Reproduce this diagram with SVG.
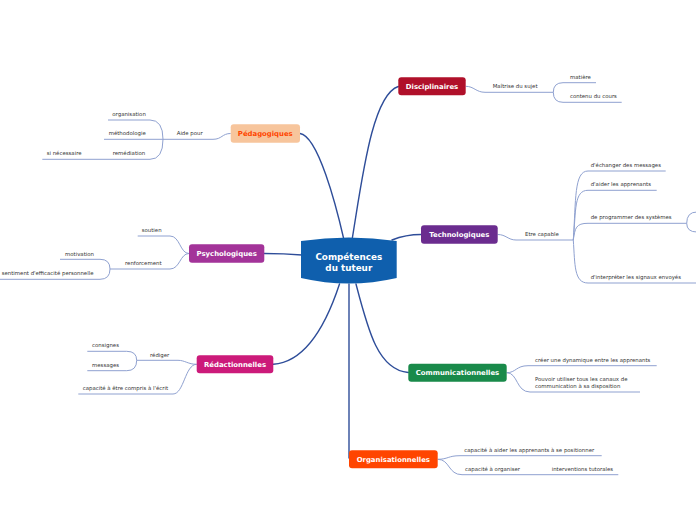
<svg xmlns="http://www.w3.org/2000/svg" width="696" height="520" viewBox="0 0 696 520">
<style>
.main{fill:none;stroke:#2E4D99;stroke-width:1.4;stroke-linecap:round}
.sub{fill:none;stroke:#8FA1D0;stroke-width:1}
.node{stroke:none}
.nt{font-family:"DejaVu Sans",Verdana,sans-serif;font-weight:bold;font-size:6.9px;fill:#fff;text-anchor:middle}
.lb{font-family:"DejaVu Sans",Verdana,sans-serif;font-size:5.4px;fill:#333}
</style>
<rect width="696" height="520" fill="#fff"/>
<g id="connectors">
<path class="main" d="M352,240 C362,180 372,95 398.3,86.5"/>
<path class="main" d="M344,240 C336,205 318,136 300,133.5"/>
<path class="main" d="M392,240 C402,236 410,234.5 421,234.5"/>
<path class="main" d="M302,255 C290,254 280,253.5 264.3,253.5"/>
<path class="main" d="M339.5,284 C326,325 305,362 273.3,364.3"/>
<path class="main" d="M349,284 L349,458"/>
<path class="main" d="M356,284 C368,330 378,370 408.3,372.5"/>
<!-- Pedagogiques -->
<path class="sub" d="M230.7,133.5 C222,133.5 222,139.3 213,139.3 L163,139.3"/>
<path class="sub" d="M163,139.3 Q163,120 150,120 L108,120"/>
<path class="sub" d="M163,139.3 L104,139.3"/>
<path class="sub" d="M163,139.3 Q163,159.3 150,159.3 L42.3,159.3"/>
<!-- Psychologiques -->
<path class="sub" d="M189,253.5 C180,253.5 180,236 170,236 L137.7,236"/>
<path class="sub" d="M189,253.5 C180,253.5 180,269 170,269 L110,269"/>
<path class="sub" d="M110,269 Q110,259.3 100,259.3 L60,259.3"/>
<path class="sub" d="M110,269 Q110,279.3 100,279.3 L0,279.3"/>
<!-- Redactionnelles -->
<path class="sub" d="M196.7,364.3 C188,364.3 185,360.3 178,360.3 L136.7,360.3"/>
<path class="sub" d="M196.7,364.3 C185,364.3 184,394 173,394 L78.3,394"/>
<path class="sub" d="M136.7,360.3 Q136.7,351.3 126.7,351.3 L87.3,351.3"/>
<path class="sub" d="M136.7,360.3 Q136.7,370.7 126.7,370.7 L87.3,370.7"/>
<!-- Disciplinaires -->
<path class="sub" d="M465.7,86.3 C474,86.3 476,92.3 485,92.3 L553.3,92.3"/>
<path class="sub" d="M553.3,92.3 Q553.3,82.7 563,82.7 L596,82.7"/>
<path class="sub" d="M553.3,92.3 Q553.3,102.3 563,102.3 L621.7,102.3"/>
<!-- Technologiques -->
<path class="sub" d="M497.7,234.5 C506,234.5 508,240 516,240 L573.3,240"/>
<path class="sub" d="M573.3,240 C576,200 574,171 588,171 L665.7,171"/>
<path class="sub" d="M573.3,240 C576,210 574,190.3 588,190.3 L656.7,190.3"/>
<path class="sub" d="M573.3,240 C575,228 576,223.3 588,223.3 L686.7,223.3"/>
<path class="sub" d="M573.3,240 C575,265 574,283 588,283 L696,283"/>
<path class="sub" d="M686.7,223.3 Q686.7,212 697,212"/>
<path class="sub" d="M686.7,223.3 Q686.7,232 697,232"/>
<!-- Communicationnelles -->
<path class="sub" d="M506.7,372.7 C516,372.7 516,365.7 528,365.7 L656.7,365.7"/>
<path class="sub" d="M506.7,372.7 C518,372.7 516,392 530,392 L640,392"/>
<!-- Organisationnelles -->
<path class="sub" d="M437.7,459.3 C448,459.3 448,455.7 460,455.7 L601.7,455.7"/>
<path class="sub" d="M437.7,459.3 C450,459.3 448,474.7 462,474.7 L618.3,474.7"/>
</g>
<g id="center">
<path class="node" fill="#0F5FAD" d="M301,241 Q348.8,234 396.7,241 L396.7,278 Q348.8,289 301,278 Z"/>
<text class="nt" x="348.8" y="260" style="font-size:8.8px">Compétences</text>
<text class="nt" x="348.8" y="270.5" style="font-size:8.8px">du tuteur</text>
</g>
<g id="disciplinaires">
<rect class="node" x="398.3" y="77.3" width="67.4" height="18" rx="3" fill="#B0102A"/>
<text class="nt" x="432" y="89">Disciplinaires</text>
<text class="lb" x="492.7" y="88">Maîtrise du sujet</text>
<text class="lb" x="570" y="78.5">matière</text>
<text class="lb" x="570" y="98">contenu du cours</text>
</g>
<g id="pedagogiques">
<rect class="node" x="230.7" y="124.3" width="69.3" height="18.4" rx="3" fill="#F7C59C"/>
<text class="nt" x="265.3" y="136" style="fill:#FF4500">Pédagogiques</text>
<text class="lb" x="176.7" y="135">Aide pour</text>
<text class="lb" x="112.3" y="116">organisation</text>
<text class="lb" x="108.7" y="135">méthodologie</text>
<text class="lb" x="112.7" y="155">remédiation</text>
<text class="lb" x="46.7" y="155">si nécessaire</text>
</g>
<g id="psychologiques">
<rect class="node" x="189" y="244.3" width="75.3" height="18.4" rx="3" fill="#A33399"/>
<text class="nt" x="226.7" y="256">Psychologiques</text>
<text class="lb" x="141.7" y="231.8">soutien</text>
<text class="lb" x="125" y="265">renforcement</text>
<text class="lb" x="65" y="256">motivation</text>
<text class="lb" x="1.7" y="275">sentiment d'efficacité personnelle</text>
</g>
<g id="technologiques">
<rect class="node" x="421" y="225.3" width="76.7" height="18.4" rx="3" fill="#6B2C8F"/>
<text class="nt" x="459.3" y="237">Technologiques</text>
<text class="lb" x="525" y="236">Etre capable</text>
<text class="lb" x="590.7" y="167">d'échanger des messages</text>
<text class="lb" x="590.7" y="186">d'aider les apprenants</text>
<text class="lb" x="590.7" y="219">de programmer des systèmes</text>
<text class="lb" x="590.7" y="279">d'interpréter les signaux envoyés</text>
</g>
<g id="redactionnelles">
<rect class="node" x="196.7" y="355.3" width="76.6" height="18" rx="3" fill="#CC1A7A"/>
<text class="nt" x="235" y="367">Rédactionnelles</text>
<text class="lb" x="150" y="356.5">rédiger</text>
<text class="lb" x="82.7" y="390">capacité à être compris à l'écrit</text>
<text class="lb" x="92" y="347">consignes</text>
<text class="lb" x="92" y="367">messages</text>
</g>
<g id="communicationnelles">
<rect class="node" x="408.3" y="363.7" width="98.4" height="18" rx="3" fill="#198A4A"/>
<text class="nt" x="457.5" y="375.4">Communicationnelles</text>
<text class="lb" x="535" y="361.8">créer une dynamique entre les apprenants</text>
<text class="lb" x="535" y="381">Pouvoir utiliser tous les canaux de</text>
<text class="lb" x="535" y="388">communication à sa disposition</text>
</g>
<g id="organisationnelles">
<rect class="node" x="349" y="450.3" width="88.7" height="18" rx="3" fill="#FF4500"/>
<text class="nt" x="393.3" y="462">Organisationnelles</text>
<text class="lb" x="464.3" y="452">capacité à aider les apprenants à se positionner</text>
<text class="lb" x="465" y="471.3">capacité à organiser</text>
<text class="lb" x="551.7" y="471.3">interventions tutorales</text>
</g>
</svg>
